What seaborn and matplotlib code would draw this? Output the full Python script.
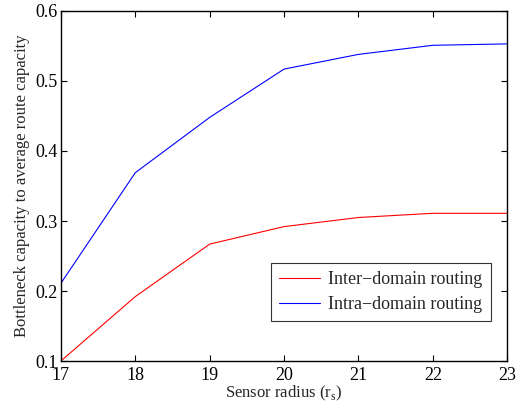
import matplotlib
matplotlib.use("Agg")
import matplotlib.pyplot as plt
import seaborn as sns
import pandas as pd

# Data
sensor_radius = [17, 18, 19, 20, 21, 22, 23]
inter_domain = [0.100, 0.192, 0.267, 0.292, 0.305, 0.311, 0.311]
intra_domain = [0.211, 0.369, 0.448, 0.517, 0.538, 0.551, 0.553]

df = pd.DataFrame({
    "radius": sensor_radius * 2,
    "ratio": inter_domain + intra_domain,
    "routing": ["Inter\u2212domain routing"] * len(sensor_radius)
               + ["Intra\u2212domain routing"] * len(sensor_radius),
})

sns.set_style("ticks")
plt.rcParams["font.family"] = ["Liberation Serif", "DejaVu Serif"]
plt.rcParams["xtick.direction"] = "in"
plt.rcParams["ytick.direction"] = "in"

fig = plt.figure(figsize=(5.16, 4.07), dpi=100)
ax = fig.add_axes([0.118, 0.113, 0.865, 0.860])

sns.lineplot(data=df, x="radius", y="ratio", hue="routing",
             palette=["#ff0000", "#0000ff"], linewidth=0.8, ax=ax)

ax.set_xlim(17, 23)
ax.set_ylim(0.1, 0.6)
ax.set_xticks(sensor_radius)
ax.set_yticks([0.1, 0.2, 0.3, 0.4, 0.5, 0.6])
ax.tick_params(top=True, right=True, labelsize=13, length=4, width=0.8,
               colors="black")
ax.tick_params(axis="x", pad=4)
ax.tick_params(axis="y", pad=2)
for s in ax.spines.values():
    s.set_linewidth(1.0)
    s.set_color("black")

ax.set_xlabel("Sensor radius (r$_\\mathregular{s}$)", fontsize=12, labelpad=0)
ax.set_ylabel("Bottleneck capacity to average route capacity", fontsize=12, labelpad=4)

leg = ax.legend(loc="lower right", bbox_to_anchor=(0.963, 0.114), fontsize=13,
                frameon=True, fancybox=False, edgecolor="black",
                handlelength=2.3, handletextpad=0.45, borderpad=0.45,
                labelspacing=0.45, borderaxespad=0)
leg.get_frame().set_linewidth(0.8)
leg.set_title(None)

fig.savefig("out.png", dpi=100)
